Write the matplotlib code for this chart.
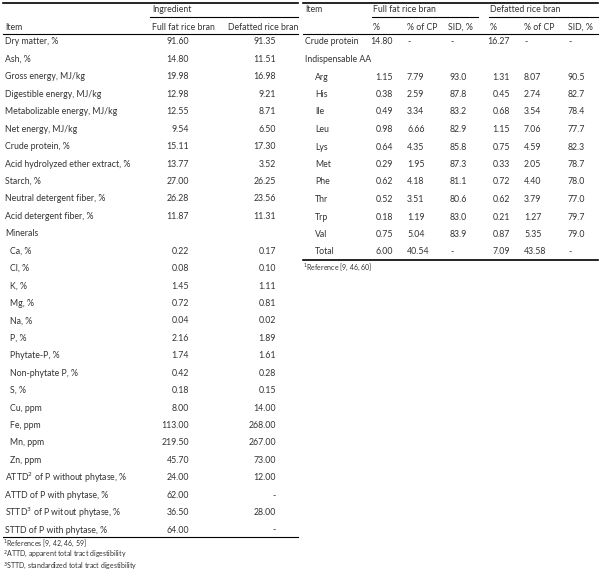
import matplotlib.pyplot as plt

plt.rcParams['font.family'] = 'Lato'

items = ["Dry matter, %", "Ash, %", "Gross energy, MJ/kg", "Digestible energy, MJ/kg",
         "Metabolizable energy, MJ/kg", "Net energy, MJ/kg", "Crude protein, %",
         "Acid hydrolyzed ether extract, %", "Starch, %", "Neutral detergent fiber, %",
         "Acid detergent fiber, %", "Minerals", "Ca, %", "Cl, %", "K, %", "Mg, %", "Na, %",
         "P, %", "Phytate-P, %", "Non-phytate P, %", "S, %", "Cu, ppm", "Fe, ppm", "Mn, ppm",
         "Zn, ppm", "ATTD$^2$ of P without phytase, %", "ATTD of P with phytase, %",
         "STTD$^3$ of P witout phytase, %", "STTD of P with phytase, %"]
indented = set(range(12, 25))
full_fat = ["91.60", "14.80", "19.98", "12.98", "12.55", "9.54", "15.11", "13.77", "27.00",
            "26.28", "11.87", "", "0.22", "0.08", "1.45", "0.72", "0.04", "2.16", "1.74",
            "0.42", "0.18", "8.00", "113.00", "219.50", "45.70", "24.00", "62.00", "36.50", "64.00"]
defatted = ["91.35", "11.51", "16.98", "9.21", "8.71", "6.50", "17.30", "3.52", "26.25",
            "23.56", "11.31", "", "0.17", "0.10", "1.11", "0.81", "0.02", "1.89", "1.61",
            "0.28", "0.15", "14.00", "268.00", "267.00", "73.00", "12.00", "-", "28.00", "-"]
left_notes = ["$^1$References [9, 42, 46, 59]", "$^2$ATTD, apparent total tract digestibility",
              "$^3$STTD, standardized total tract digestibility"]

aa_items = ["Crude protein", "Indispensable AA", "Arg", "His", "Ile", "Leu", "Lys", "Met",
            "Phe", "Thr", "Trp", "Val", "Total"]
ff_pct = ["14.80", "", "1.15", "0.38", "0.49", "0.98", "0.64", "0.29", "0.62", "0.52", "0.18", "0.75", "6.00"]
ff_cp = ["-", "", "7.79", "2.59", "3.34", "6.66", "4.35", "1.95", "4.18", "3.51", "1.19", "5.04", "40.54"]
ff_sid = ["-", "", "93.0", "87.8", "83.2", "82.9", "85.8", "87.3", "81.1", "80.6", "83.0", "83.9", "-"]
df_pct = ["16.27", "", "1.31", "0.45", "0.68", "1.15", "0.75", "0.33", "0.72", "0.62", "0.21", "0.87", "7.09"]
df_cp = ["-", "", "8.07", "2.74", "3.54", "7.06", "4.59", "2.05", "4.40", "3.79", "1.27", "5.35", "43.58"]
df_sid = ["-", "", "90.5", "82.7", "78.4", "77.7", "82.3", "78.7", "78.0", "77.0", "79.7", "79.0", "-"]
right_note = "$^1$Reference [9, 46, 60]"

fig = plt.figure(figsize=(6, 5.72), dpi=100)
ax = fig.add_axes([0, 0, 1, 1])
ax.set_xlim(0, 600)
ax.set_ylim(572, 0)
ax.axis('off')
fs = 6.3
c = '#333333'

def t(x, y, s, ha='left', size=fs):
    ax.text(x, y, s, ha=ha, va='center', fontsize=size, color=c)

def hline(x0, x1, y, lw=0.8):
    ax.plot([x0, x1], [y, y], color='black', lw=lw)

# left table
hline(3, 298, 3, 1.2)
t(152, 10, "Ingredient")
hline(150, 298, 17)
t(5, 27, "Item")
t(152, 27, "Full fat rice bran")
t(228, 27, "Defatted rice bran")
hline(3, 298, 34)
y0, dy = 42, 17.43
for i, name in enumerate(items):
    y = y0 + i * dy
    t(10 if i in indented else 5, y, name)
    t(189, y, full_fat[i], 'right')
    t(276, y, defatted[i], 'right')
hline(3, 298, 537)
for i, s in enumerate(left_notes):
    t(3, 543 + i * 11.5, s, size=5)

# right table
hline(303, 598, 3, 1.2)
t(305, 10, "Item")
t(373, 10, "Full fat rice bran")
t(490, 10, "Defatted rice bran")
hline(372, 478, 17)
hline(489, 598, 17)
for x, s in [(373, "%"), (407, "% of CP"), (448, "SID, %"),
             (490, "%"), (524, "% of CP"), (568, "SID, %")]:
    t(x, 27, s)
hline(303, 598, 34)
y0r, dyr = 42, 17.5
for i, name in enumerate(aa_items):
    y = y0r + i * dyr
    t(305 if i < 2 else 315, y, name)
    t(393, y, ff_pct[i], 'right')
    t(407, y, ff_cp[i])
    t(450, y, ff_sid[i])
    t(510, y, df_pct[i], 'right')
    t(524, y, df_cp[i])
    t(568, y, df_sid[i])
hline(303, 598, 260, 1.2)
t(303, 267, right_note, size=5)

fig.savefig('out.png', dpi=100)
